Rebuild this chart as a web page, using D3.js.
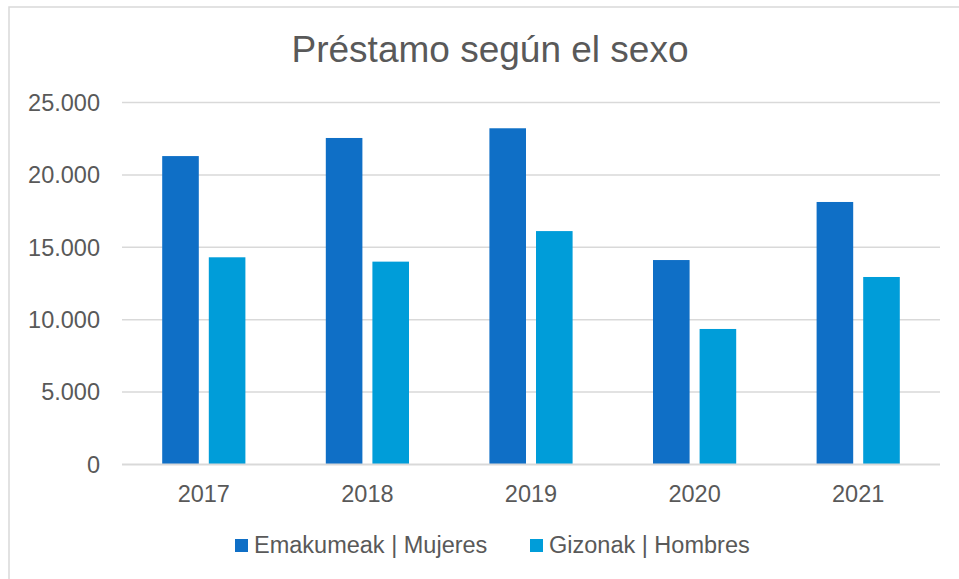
<!DOCTYPE html>
<html><head><meta charset="utf-8">
<script src="https://cdn.jsdelivr.net/npm/d3@7"></script>
<style>html,body{margin:0;padding:0;background:#fff;}svg{display:block;font-family:"Liberation Sans",Arial,sans-serif;}</style>
</head><body>
<svg id="chart" width="959" height="579"></svg>
<script>
const years = ["2017","2018","2019","2020","2021"];
const seriesNames = ["Emakumeak | Mujeres","Gizonak | Hombres"];
const mujeres = [21300, 22550, 23220, 14120, 18130];
const hombres = [14310, 14010, 16120, 9360, 12950];
const yTicks = [0, 5000, 10000, 15000, 20000, 25000];
const colors = ["#0F6FC6", "#009DD9"];
const title = "Préstamo según el sexo";

const svg = d3.select("#chart");
svg.append("rect").attr("x",9).attr("y",7).attr("width",1000).attr("height",600)
  .attr("fill","#fff").attr("stroke","#D9D9D9").attr("stroke-width",1.5);

const x = d3.scaleBand().domain(years).range([122,940]).padding(0);
const xs = d3.scaleBand().domain(seriesNames).range([0, x.bandwidth()]).paddingInner(0.2146).paddingOuter(0.8627);
const y = d3.scaleLinear().domain([0,25000]).range([464.5,102.5]);

const fmt = v => v === 0 ? "0" : d3.format(",")(v).replace(/,/g,".");

// gridlines
svg.append("g").selectAll("line").data(yTicks.filter(t=>t>0)).join("line")
  .attr("x1",122).attr("x2",940).attr("y1",d=>y(d)).attr("y2",d=>y(d))
  .attr("stroke","#D9D9D9").attr("stroke-width",1.5);

// y labels
svg.append("g").selectAll("text").data(yTicks).join("text")
  .attr("x",100).attr("y",d=>y(d)).attr("dy","0.35em").attr("text-anchor","end")
  .attr("font-size",23.5).attr("fill","#595959").text(fmt);

// bars
const data = years.map((yr,i)=>({year:yr, vals:[mujeres[i], hombres[i]]}));
const g = svg.append("g").selectAll("g").data(data).join("g")
  .attr("transform",d=>`translate(${x(d.year)},0)`);
g.selectAll("rect").data(d=>d.vals.map((v,j)=>({v, s:seriesNames[j], j}))).join("rect")
  .attr("x",d=>xs(d.s)).attr("width",xs.bandwidth())
  .attr("y",d=>y(d.v)).attr("height",d=>y(0)-y(d.v))
  .attr("fill",d=>colors[d.j]);

// baseline
svg.append("line").attr("x1",122).attr("x2",940).attr("y1",y(0)).attr("y2",y(0))
  .attr("stroke","#D9D9D9").attr("stroke-width",2);

// x labels
svg.append("g").selectAll("text").data(years).join("text")
  .attr("x",d=>x(d)+x.bandwidth()/2).attr("y",502).attr("text-anchor","middle")
  .attr("font-size",23.5).attr("fill","#595959").text(d=>d);

// title
svg.append("text").attr("x",490).attr("y",62).attr("text-anchor","middle")
  .attr("font-size",37).attr("fill","#595959").text(title);

// legend
const legX = [235, 530];
const lg = svg.append("g").selectAll("g").data(seriesNames).join("g")
  .attr("transform",(d,i)=>`translate(${legX[i]},539)`);
lg.append("rect").attr("width",13).attr("height",13).attr("fill",(d,i)=>colors[i]);
lg.append("text").attr("x",19).attr("y",14).attr("font-size",23.5).attr("fill","#595959").text(d=>d);
</script>
</body></html>
